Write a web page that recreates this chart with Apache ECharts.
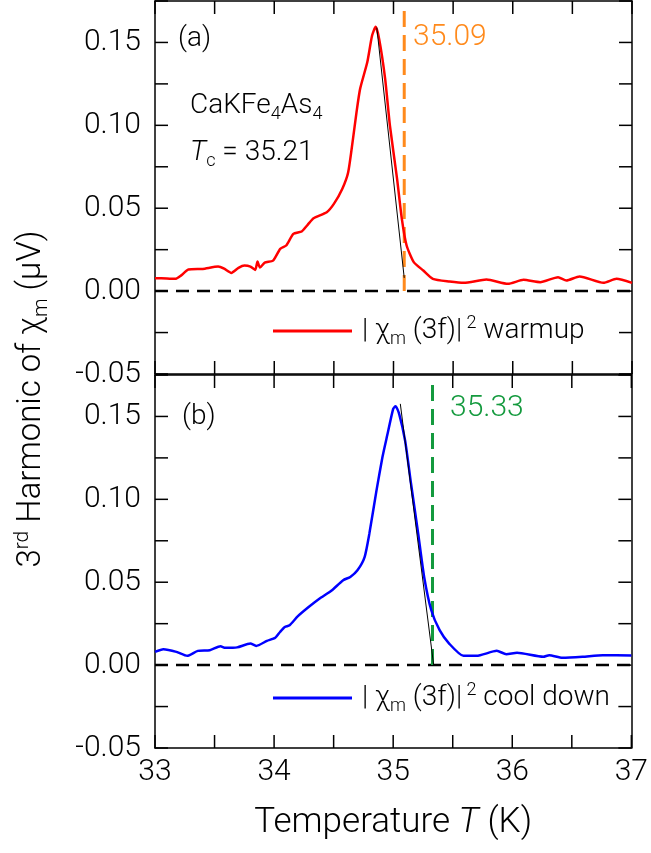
<!DOCTYPE html>
<html>
<head>
<meta charset="utf-8">
<script src="https://cdn.jsdelivr.net/npm/echarts@6/dist/echarts.min.js"></script>
<style>
  html, body { margin: 0; padding: 0; background: #fff; }
  #chart { width: 651px; height: 853px; }
</style>
</head>
<body>
<div id="chart"></div>
<script>
// warm-up run, panel (a)
const warmT = [33.00, 33.10, 33.17, 33.22, 33.28, 33.40, 33.53, 33.58, 33.64, 33.70, 33.75, 33.80, 33.84, 33.86, 33.88, 33.92,
    33.99, 34.05, 34.10, 34.16, 34.23, 34.28, 34.33, 34.44, 34.50, 34.57, 34.62, 34.66, 34.69, 34.72, 34.78, 34.82,
    34.85, 34.88, 34.93, 34.97, 35.03, 35.07, 35.11, 35.17, 35.25, 35.33, 35.47, 35.59, 35.78, 35.96, 36.09, 36.23,
    36.38, 36.45, 36.56, 36.76, 36.87, 37.00];
const warmChi = [0.0078, 0.0076, 0.0074, 0.0095, 0.0130, 0.0134, 0.0148, 0.0135, 0.0110, 0.0140, 0.0154, 0.0148, 0.0128, 0.0178, 0.0142, 0.0172,
    0.0184, 0.0255, 0.0275, 0.0345, 0.0360, 0.0400, 0.0440, 0.0476, 0.0526, 0.0616, 0.0717, 0.0917, 0.1080, 0.1220, 0.1380, 0.1540,
    0.1594, 0.1520, 0.1280, 0.0998, 0.0677, 0.0436, 0.0275, 0.0175, 0.0124, 0.0074, 0.0058, 0.0050, 0.0070, 0.0044, 0.0068, 0.0054,
    0.0084, 0.0064, 0.0088, 0.0050, 0.0074, 0.0050];

// cool-down run, panel (b)
const coolT = [33.00, 33.07, 33.18, 33.27, 33.36, 33.46, 33.55, 33.59, 33.69, 33.80, 33.85, 33.94, 34.01, 34.05, 34.09, 34.13,
    34.20, 34.29, 34.38, 34.48, 34.58, 34.64, 34.70, 34.76, 34.80, 34.86, 34.91, 34.95, 35.00, 35.02, 35.05, 35.10,
    35.15, 35.21, 35.26, 35.32, 35.39, 35.47, 35.59, 35.70, 35.87, 35.95, 36.04, 36.26, 36.31, 36.42, 36.59, 36.76, 37.00];
const coolChi = [0.0080, 0.0096, 0.0080, 0.0056, 0.0086, 0.0090, 0.0114, 0.0104, 0.0107, 0.0130, 0.0116, 0.0146, 0.0165, 0.0200, 0.0230, 0.0240,
    0.0295, 0.0350, 0.0400, 0.0448, 0.0512, 0.0532, 0.0572, 0.0652, 0.0793, 0.1054, 0.1255, 0.1386, 0.1546, 0.1562, 0.1516, 0.1355,
    0.1094, 0.0793, 0.0532, 0.0331, 0.0211, 0.0130, 0.0056, 0.0056, 0.0086, 0.0066, 0.0074, 0.0050, 0.0060, 0.0044, 0.0050, 0.0060, 0.0058];

// linear fits of the falling edge and the onset temperatures
const warmFitT = [34.86, 35.09];
const warmFitChi = [0.159, 0.008];
const coolFitT = [35.06, 35.34];
const coolFitChi = [0.1576, 0.0];
const warmOnset = 35.09;
const coolOnset = 35.33;
const onsetTop = 0.17;

// axes and tick values
const xRange = [33, 37];
const yRange = [-0.05, 0.175];
const xTicks = [33, 33.5, 34, 34.5, 35, 35.5, 36, 36.5, 37];
const yTicks = [-0.05, -0.025, 0, 0.025, 0.05, 0.075, 0.1, 0.125, 0.15, 0.175];

const FONT = 'Roboto';
const TICK = 13;
const zip = (a, b) => a.map((v, i) => [v, b[i]]);

let chart = echarts.init(document.getElementById('chart'));

function xAxisOf(gridIndex, position, showLabels) {
    let axis = {
        type: 'value', gridIndex: gridIndex, position: position,
        min: xRange[0], max: xRange[1], interval: 0.5,
        axisLine: { show: true, onZero: false, lineStyle: { color: '#000', width: 1.5 } },
        axisTick: { show: false },
        splitLine: { show: false },
        axisLabel: {
            show: showLabels, margin: 9, color: '#000', fontSize: 30, fontFamily: FONT, fontWeight: 300,
            formatter: v => (Math.abs(v - Math.round(v)) < 1e-6 ? String(Math.round(v)) : '')
        }
    };
    if (showLabels) {
        axis.name = 'Temperature {it|T} (K)';
        axis.nameLocation = 'middle';
        axis.nameGap = 55;
        axis.nameTextStyle = {
            color: '#000', fontSize: 35, fontFamily: FONT, fontWeight: 300, lineHeight: 40,
            rich: { it: { fontStyle: 'italic', fontSize: 35, fontFamily: FONT, fontWeight: 300 } }
        };
    }
    return axis;
}

function yAxisOf(gridIndex, position, showLabels) {
    return {
        type: 'value', gridIndex: gridIndex, position: position,
        min: yRange[0], max: yRange[1], interval: 0.025,
        axisLine: { show: true, onZero: false, lineStyle: { color: '#000', width: 1.5 } },
        axisTick: { show: false },
        splitLine: { show: false },
        axisLabel: {
            show: showLabels, margin: 14, color: '#000', fontSize: 30, fontFamily: FONT, fontWeight: 300,
            formatter: v => {
                let k = Math.round(v * 1000);
                return k % 50 === 0 ? (k / 1000).toFixed(2) : '';
            }
        }
    };
}

// inward tick marks on all four sides, placed through the axis scales
function tickSeries(xi, values, horizontal) {
    return {
        type: 'custom', xAxisIndex: xi, yAxisIndex: xi, silent: true, clip: false, z: 6,
        data: values.map(v => (horizontal ? [v, yRange[0]] : [xRange[0], v])),
        renderItem: (params, api) => {
            let style = { stroke: '#000', lineWidth: 1.5 };
            if (horizontal) {
                let v = api.value(0);
                let b = api.coord([v, yRange[0]]);
                let t = api.coord([v, yRange[1]]);
                return {
                    type: 'group', children: [
                        { type: 'line', shape: { x1: b[0], y1: b[1], x2: b[0], y2: b[1] - TICK }, style: style },
                        { type: 'line', shape: { x1: t[0], y1: t[1], x2: t[0], y2: t[1] + TICK }, style: style }
                    ]
                };
            }
            let v = api.value(1);
            let l = api.coord([xRange[0], v]);
            let r = api.coord([xRange[1], v]);
            return {
                type: 'group', children: [
                    { type: 'line', shape: { x1: l[0], y1: l[1], x2: l[0] + TICK, y2: l[1] }, style: style },
                    { type: 'line', shape: { x1: r[0], y1: r[1], x2: r[0] - TICK, y2: r[1] }, style: style }
                ]
            };
        }
    };
}

function richSub() {
    return {
        it: { fontStyle: 'italic', fontSize: 28, fontFamily: FONT, fontWeight: 300, lineHeight: 34 },
        chi: { fontSize: 28, fontFamily: FONT, fontWeight: 300, lineHeight: 34 },
        sub: { fontSize: 18, fontFamily: FONT, fontWeight: 300, lineHeight: 18, verticalAlign: 'bottom' },
        sup: { fontSize: 18, fontFamily: FONT, fontWeight: 300, lineHeight: 18, verticalAlign: 'top' }
    };
}

function label(x, y, text, color, size) {
    return {
        type: 'text', x: x, y: y, silent: true,
        style: {
            text: text, fill: color, fontSize: size, fontFamily: FONT, fontWeight: 300,
            lineHeight: 34, align: 'left', verticalAlign: 'middle', rich: richSub()
        }
    };
}

const legendNames = {
    'warmup': '| {chi|χ}{sub|m} (3f)|{sup| 2} warmup',
    'cool down': '| {chi|χ}{sub|m} (3f)|{sup| 2} cool down'
};

function legendOf(name, top) {
    return {
        data: [name], left: 273, top: top, padding: 0,
        icon: 'rect', itemWidth: 79, itemHeight: 3,
        selectedMode: false,
        formatter: n => legendNames[n],
        textStyle: {
            color: '#000', fontSize: 28, fontFamily: FONT, fontWeight: 300, lineHeight: 34,
            padding: [0, 0, 0, 5], rich: richSub()
        }
    };
}

function dashed(xi, data, color, width, dash) {
    return {
        type: 'line', xAxisIndex: xi, yAxisIndex: xi, data: data, symbol: 'none', silent: true,
        lineStyle: { color: color, width: width, type: dash }, z: 3
    };
}

let option = {
    animation: false,
    backgroundColor: '#fff',
    grid: [
        { left: 155, right: 19, top: 1, height: 373 },
        { left: 155, right: 19, top: 375, height: 373 }
    ],
    xAxis: [
        xAxisOf(0, 'bottom', false), xAxisOf(0, 'top', false),
        xAxisOf(1, 'bottom', true), xAxisOf(1, 'top', false)
    ],
    yAxis: [
        yAxisOf(0, 'left', true), yAxisOf(0, 'right', false),
        yAxisOf(1, 'left', true), yAxisOf(1, 'right', false)
    ],
    legend: [legendOf('warmup', 314), legendOf('cool down', 681)],
    series: [
        tickSeries(0, xTicks, true), tickSeries(0, yTicks, false),
        tickSeries(2, xTicks, true), tickSeries(2, yTicks, false),
        // zero reference lines
        dashed(0, [[xRange[0], 0], [xRange[1], 0]], '#000', 2.5, [13, 8]),
        dashed(2, [[xRange[0], 0], [xRange[1], 0]], '#000', 2.5, [13, 8]),
        // onset markers
        dashed(0, [[warmOnset, 0], [warmOnset, onsetTop]], '#ff8a1c', 3, [16, 8]),
        dashed(2, [[coolOnset, 0], [coolOnset, onsetTop]], '#149a3e', 3, [16, 8]),
        {
            name: 'warmup', type: 'line', xAxisIndex: 0, yAxisIndex: 0,
            data: zip(warmT, warmChi), symbol: 'none', smooth: 0.2,
            itemStyle: { color: '#ff0000' }, lineStyle: { color: '#ff0000', width: 2.5 }, z: 4
        },
        {
            name: 'cool down', type: 'line', xAxisIndex: 2, yAxisIndex: 2,
            data: zip(coolT, coolChi), symbol: 'none', smooth: 0.2,
            itemStyle: { color: '#0000ff' }, lineStyle: { color: '#0000ff', width: 2.5 }, z: 4
        },
        {
            type: 'line', xAxisIndex: 0, yAxisIndex: 0, data: zip(warmFitT, warmFitChi), symbol: 'none', silent: true,
            lineStyle: { color: '#000', width: 1 }, z: 5
        },
        {
            type: 'line', xAxisIndex: 2, yAxisIndex: 2, data: zip(coolFitT, coolFitChi), symbol: 'none', silent: true,
            lineStyle: { color: '#000', width: 1 }, z: 5
        }
    ],
    graphic: [
        label(178, 39, '(a)', '#000', 28),
        label(182, 417, '(b)', '#000', 28),
        label(413, 37, '35.09', '#ff8a1c', 30),
        label(450, 408, '35.33', '#149a3e', 30),
        label(190, 106, 'CaKFe{sub|4}As{sub|4}', '#000', 28),
        label(190, 153, '{it|T}{sub|c} = 35.21', '#000', 28),
        {
            type: 'text', x: 32, y: 399, rotation: Math.PI / 2, silent: true,
            style: {
                text: '3{sup|rd} Harmonic of {chi|χ}{sub|m} (μV)', fill: '#000',
                fontSize: 33, fontFamily: FONT, fontWeight: 300, lineHeight: 40,
                align: 'center', verticalAlign: 'middle',
                rich: {
                    chi: { fontSize: 33, fontFamily: FONT, fontWeight: 300, lineHeight: 40 },
                    sub: { fontSize: 21, fontFamily: FONT, fontWeight: 300, lineHeight: 20, verticalAlign: 'bottom' },
                    sup: { fontSize: 21, fontFamily: FONT, fontWeight: 300, lineHeight: 20, verticalAlign: 'top' }
                }
            }
        }
    ]
};

chart.setOption(option);
</script>
</body>
</html>
